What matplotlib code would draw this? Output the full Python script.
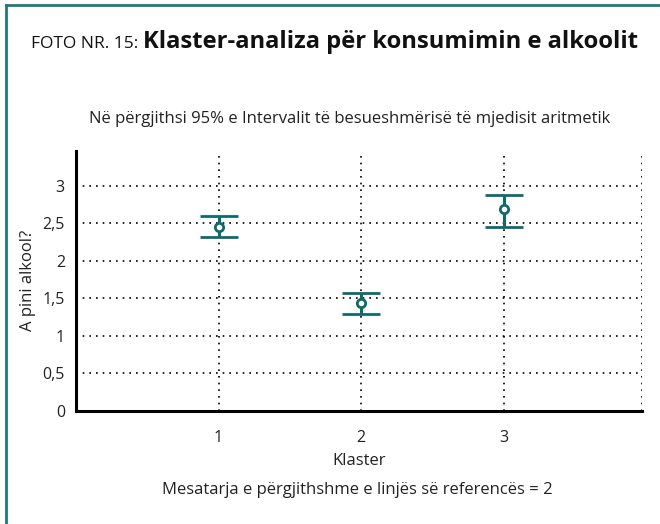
import matplotlib.pyplot as plt
from matplotlib.lines import Line2D

plt.rcParams['font.family'] = ['Open Sans', 'DejaVu Sans']

# Klaster-analiza: mesatarja dhe intervali 95%
klaster = [1, 2, 3]
mesatarja = [2.45, 1.43, 2.69]
kufiri_poshte = [2.32, 1.29, 2.45]
kufiri_larte = [2.60, 1.57, 2.88]

ngjyra = '#0f6a6c'
tekst = '#222222'

fig = plt.figure(figsize=(6.6, 5.24), dpi=100)
ax = fig.add_axes([0.1152, 0.2162, 0.8575, 0.4956])

err = [[m - lo for m, lo in zip(mesatarja, kufiri_poshte)],
       [hi - m for m, hi in zip(mesatarja, kufiri_larte)]]
ax.errorbar(klaster, mesatarja, yerr=err, fmt='o', color=ngjyra,
            mfc='white', mec=ngjyra, ms=6, mew=2, elinewidth=2.2,
            capsize=13.5, capthick=2.5, zorder=3)

ax.set_xlim(0, 3.97)
ax.set_ylim(0, 3.46)
ax.set_xticks(klaster)
ax.set_yticks([0, 0.5, 1, 1.5, 2, 2.5, 3])
ax.set_yticklabels(['0', '0,5', '1', '1,5', '2', '2,5', '3'])
ax.tick_params(length=0, labelsize=11.5, colors=tekst)
ax.tick_params(axis='y', pad=8)
ax.tick_params(axis='x', pad=14)
ax.grid(True, linestyle=(0, (1, 3)), color='black', linewidth=1.2)
ax.axvline(ax.get_xlim()[1], linestyle=(0, (1, 3)), color='black', linewidth=1.2)

for s in ['top', 'right']:
    ax.spines[s].set_visible(False)
for s in ['left', 'bottom']:
    ax.spines[s].set_linewidth(2.2)
    ax.spines[s].set_color('black')

ax.set_xlabel('Klaster', fontsize=12, color=tekst, labelpad=5)
ax.set_ylabel('A pini alkool?', fontsize=12, color=tekst, labelpad=5)

# titulli
fig.text(0.047, 0.908, 'FOTO NR. 15:', fontsize=12.5, color='#111111')
fig.text(0.217, 0.908, 'Klaster-analiza për konsumimin e alkoolit',
         fontsize=17.1, fontweight='bold', color='#111111')
fig.text(0.53, 0.765,
         'Në përgjithsi 95% e Intervalit të besueshmërisë të mjedisit aritmetik',
         fontsize=12, ha='center', color=tekst)
fig.text(0.542, 0.058, 'Mesatarja e përgjithshme e linjës së referencës = 2',
         fontsize=12, ha='center', color=tekst)

# korniza
fig.add_artist(Line2D([0.009, 1.0], [0.991, 0.991], color='#1f7a7a', lw=2,
                      transform=fig.transFigure))
fig.add_artist(Line2D([0.009, 0.009], [0.0, 0.991], color='#1f7a7a', lw=2,
                      transform=fig.transFigure))

fig.savefig('out.png', dpi=100)
